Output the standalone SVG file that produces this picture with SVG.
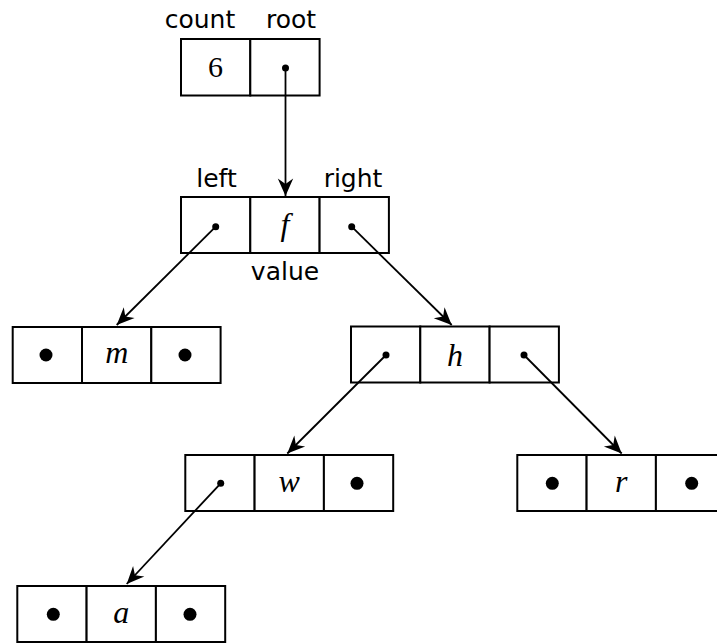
<svg xmlns="http://www.w3.org/2000/svg" width="717" height="643" viewBox="0 0 717 643">
<style>
.cell{fill:#fff;stroke:#000;stroke-width:2}
.lbl{font-family:"DejaVu Sans",sans-serif;font-size:25px;text-anchor:middle;fill:#000}
.val{font-family:"Liberation Serif",serif;font-style:italic;font-size:32px;text-anchor:middle;fill:#000}
.num{font-family:"Liberation Serif",serif;font-size:30px;text-anchor:middle;fill:#000}
.sd{fill:#000}
.bd{fill:#000}
.conn{stroke:#000;stroke-width:1.8;fill:none;marker-end:url(#arr)}
</style>
<defs>
<marker id="arr" markerUnits="userSpaceOnUse" markerWidth="22" markerHeight="20" viewBox="-18 -9 20 18" refX="0" refY="0" orient="auto">
<path d="M0,0 L-16,-7 L-11,0 L-16,7 Z" fill="#000"/>
</marker>
</defs>
<rect width="717" height="643" fill="#fff"/>
<g id="header">
<rect class="cell" x="181" y="39" width="69.3" height="56.5"/>
<rect class="cell" x="250.3" y="39" width="69.3" height="56.5"/>
<text class="lbl" x="200" y="28">count</text>
<text class="lbl" x="291" y="28">root</text>
<text class="num" x="215.6" y="77">6</text>
<circle class="sd" cx="285.5" cy="68" r="3.5"/>
</g>
<g id="node-f">
<rect class="cell" x="181" y="197" width="69.3" height="56"/>
<rect class="cell" x="250.3" y="197" width="69.3" height="56"/>
<rect class="cell" x="319.6" y="197" width="69.3" height="56"/>
<text class="lbl" x="216.5" y="187">left</text>
<text class="lbl" x="353" y="187">right</text>
<text class="lbl" x="285" y="280">value</text>
<text class="val" x="285" y="235">f</text>
<circle class="sd" cx="215.7" cy="226.7" r="3.5"/>
<circle class="sd" cx="351.7" cy="226.7" r="3.5"/>
</g>
<g id="node-m">
<rect class="cell" x="12.7" y="327" width="69.3" height="56"/>
<rect class="cell" x="82" y="327" width="69.3" height="56"/>
<rect class="cell" x="151.3" y="327" width="69.3" height="56"/>
<text class="val" x="116.7" y="363">m</text>
<circle class="bd" cx="46" cy="355" r="6.5"/>
<circle class="bd" cx="185" cy="355" r="6.5"/>
</g>
<g id="node-h">
<rect class="cell" x="351" y="326.5" width="69.3" height="56"/>
<rect class="cell" x="420.3" y="326.5" width="69.3" height="56"/>
<rect class="cell" x="489.6" y="326.5" width="69.3" height="56"/>
<text class="val" x="455" y="366">h</text>
<circle class="sd" cx="386" cy="355" r="3.5"/>
<circle class="sd" cx="524" cy="355" r="3.5"/>
</g>
<g id="node-w">
<rect class="cell" x="185.3" y="455" width="69.3" height="56"/>
<rect class="cell" x="254.6" y="455" width="69.3" height="56"/>
<rect class="cell" x="323.9" y="455" width="69.3" height="56"/>
<text class="val" x="289.2" y="492">w</text>
<circle class="sd" cx="220.7" cy="483.3" r="3.5"/>
<circle class="bd" cx="357" cy="483.3" r="6.5"/>
</g>
<g id="node-r">
<rect class="cell" x="517.3" y="455" width="69.3" height="56"/>
<rect class="cell" x="586.6" y="455" width="69.3" height="56"/>
<rect class="cell" x="655.9" y="455" width="69.3" height="56"/>
<text class="val" x="621.3" y="492">r</text>
<circle class="bd" cx="552.3" cy="483.3" r="6.5"/>
<circle class="bd" cx="691.7" cy="483.3" r="6.5"/>
</g>
<g id="node-a">
<rect class="cell" x="17.3" y="586" width="69.3" height="56"/>
<rect class="cell" x="86.6" y="586" width="69.3" height="56"/>
<rect class="cell" x="155.9" y="586" width="69.3" height="56"/>
<text class="val" x="121.3" y="623">a</text>
<circle class="bd" cx="53.3" cy="614.3" r="6.5"/>
<circle class="bd" cx="190" cy="614.3" r="6.5"/>
</g>
<g id="connectors">
<line class="conn" x1="285.5" y1="68" x2="285.5" y2="196"/>
<line class="conn" x1="215.7" y1="226.7" x2="116.7" y2="325"/>
<line class="conn" x1="351.7" y1="226.7" x2="451.7" y2="325"/>
<line class="conn" x1="386" y1="355" x2="287.3" y2="453.5"/>
<line class="conn" x1="524" y1="355" x2="621.7" y2="453.5"/>
<line class="conn" x1="220.7" y1="483.3" x2="126.7" y2="584"/>
</g>
</svg>
